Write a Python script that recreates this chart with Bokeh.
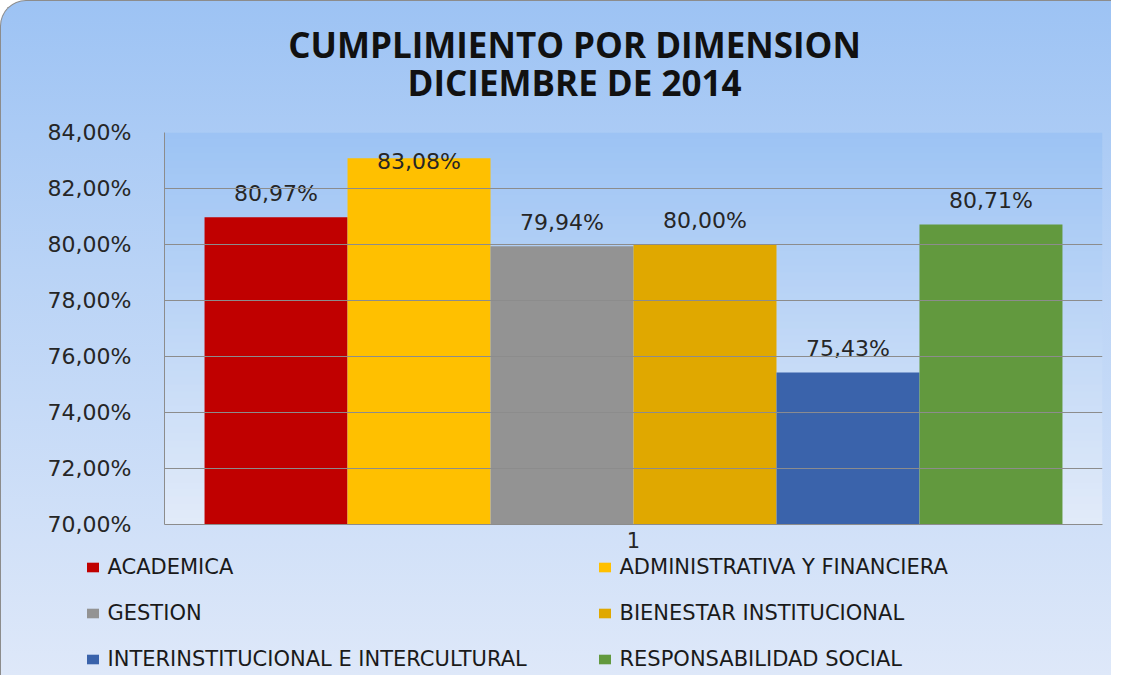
from bokeh.plotting import figure
from bokeh.layouts import column, row
from bokeh.models import (ColumnDataSource, Range1d, FixedTicker, Legend, LegendItem,
                          Label, BoxAnnotation, Spacer)
from bokeh.core.properties import value
from bokeh.embed import file_html
from bokeh.resources import INLINE

# ---------------- data ----------------
categories = ["ACADEMICA", "ADMINISTRATIVA Y FINANCIERA", "GESTION",
              "BIENESTAR INSTITUCIONAL", "INTERINSTITUCIONAL E INTERCULTURAL",
              "RESPONSABILIDAD SOCIAL"]
values = [80.97, 83.08, 79.94, 80.00, 75.43, 80.71]
value_labels = ["80,97%", "83,08%", "79,94%", "80,00%", "75,43%", "80,71%"]
colors = ["#C00000", "#FFC000", "#939393", "#E0A800", "#3A63AB", "#62993E"]
y_ticks = [70, 72, 74, 76, 78, 80, 82, 84]
y_tick_labels = ["70,00%", "72,00%", "74,00%", "76,00%", "78,00%", "80,00%", "82,00%", "84,00%"]
x_group_label = "1"
title_lines = ["CUMPLIMIENTO POR DIMENSION", "DICIEMBRE DE 2014"]

# ---------------- layout ----------------
W = 1110
FONT = "DejaVu Sans"
y_min, y_max = y_ticks[0], y_ticks[-1]
common = dict(output_backend="svg", toolbar_location=None,
              border_fill_color=None, border_fill_alpha=0,
              background_fill_color=None, outline_line_color=None)

# ---------------- title strip ----------------
TH = 116
pt = figure(width=W, height=TH, x_range=Range1d(0, 1), y_range=Range1d(0, 1),
            x_axis_type=None, y_axis_type=None, min_border=0, **common)
for txt, yy in zip(title_lines, [TH - 43, TH - 81]):
    pt.add_layout(Label(x=410, y=yy, x_units="screen", y_units="screen", text=txt,
                        text_align="center", text_baseline="middle",
                        text_font="Open Sans", text_font_style="bold",
                        text_font_size="35px", text_color="#111111"))

# ---------------- main chart ----------------
p = figure(frame_width=938, frame_height=392,
           x_range=Range1d(-0.28, 6.28), y_range=Range1d(y_min, y_max),
           min_border_left=163, min_border_right=9, min_border_top=15, min_border_bottom=31,
           **common)


def mix(c1, c2, t):
    return "#%02x%02x%02x" % tuple(int(round(a + (b - a) * t)) for a, b in zip(c1, c2))


# plot area gradient
inner_top, inner_bot = (156, 195, 244), (226, 235, 249)
m = 56
for i in range(m):
    b = y_min + (y_max - y_min) * i / m
    t_ = y_min + (y_max - y_min) * (i + 1) / m + 0.02
    p.add_layout(BoxAnnotation(bottom=b, top=min(t_, y_max),
                               fill_color=mix(inner_bot, inner_top, (i + 0.5) / m), fill_alpha=1,
                               line_color=None, level="underlay"))

xs = [i + 0.5 for i in range(len(values))]
label_y = [min(v + 0.86, 82.96) for v in values]
src = ColumnDataSource(dict(x=xs, top=values, color=colors, cat=categories,
                            lab=value_labels, ly=label_y))
bars = p.vbar(x="x", top="top", bottom=y_min, width=1.0, source=src,
              fill_color="color", line_color=None)
p.text(x="x", y="ly", text="lab", source=src, text_align="center", text_baseline="middle",
       text_font=value(FONT), text_font_size="22px", text_color="#262626")

p.yaxis.ticker = FixedTicker(ticks=y_ticks)
p.yaxis.major_label_overrides = {t: l for t, l in zip(y_ticks, y_tick_labels)}
p.yaxis.major_label_text_font = FONT
p.yaxis.major_label_text_font_size = "22px"
p.yaxis.major_label_text_color = "#262626"
p.yaxis.major_tick_in = 0
p.yaxis.major_tick_out = 0
p.yaxis.minor_tick_in = 0
p.yaxis.minor_tick_out = 0
p.yaxis.major_label_standoff = 33
p.yaxis.axis_line_color = "#8C8C8C"

p.xaxis.ticker = FixedTicker(ticks=[3])
p.xaxis.major_label_overrides = {3: x_group_label}
p.xaxis.major_label_text_font = FONT
p.xaxis.major_label_text_font_size = "21px"
p.xaxis.major_label_text_color = "#262626"
p.xaxis.major_tick_in = 0
p.xaxis.major_tick_out = 0
p.xaxis.minor_tick_in = 0
p.xaxis.minor_tick_out = 0
p.xaxis.major_label_standoff = 7
p.xaxis.axis_line_color = "#8C8C8C"

p.xgrid.grid_line_color = None
p.ygrid.ticker = FixedTicker(ticks=y_ticks)
p.ygrid.grid_line_color = "#8C8C8C"
p.ygrid.grid_line_width = 1
p.ygrid.level = "glyph"

# ---------------- legend strip ----------------
LH = 120
pl = figure(width=W - 2, height=LH, x_range=Range1d(-0.28, 6.28), y_range=Range1d(y_min, y_max),
            x_axis_type=None, y_axis_type=None, min_border=0, **common)
leg_bars = pl.vbar(x="x", top="top", bottom=y_min, width=1.0, source=src,
                   fill_color="color", line_color=None)
leg_bars.visible = False
legend = Legend(items=[LegendItem(label=categories[i], renderers=[leg_bars], index=i)
                       for i in range(len(categories))],
                location=(81.5, 4), orientation="horizontal", ncols=2,
                background_fill_alpha=0, border_line_color=None, padding=0, margin=0,
                inactive_fill_alpha=0,
                spacing=22, label_height=24, label_width=467, glyph_height=12, glyph_width=15,
                label_standoff=8, label_text_font=FONT, label_text_font_size="21px",
                label_text_color="#1a1a1a")
pl.add_layout(legend)

layout = column(pt, p, row(Spacer(width=2, height=LH), pl, spacing=0), spacing=0)
layout.styles = {
    "background": "linear-gradient(to bottom, #9DC3F4 0%, #B9D3F6 40%, #DEE8F9 100%)",
    "border-left": "1.5px solid #8C8C8C",
    "border-top": "1.5px solid #8C8C8C",
    "border-top-left-radius": "26px",
}

open("out.html", "w").write(file_html(layout, INLINE))
